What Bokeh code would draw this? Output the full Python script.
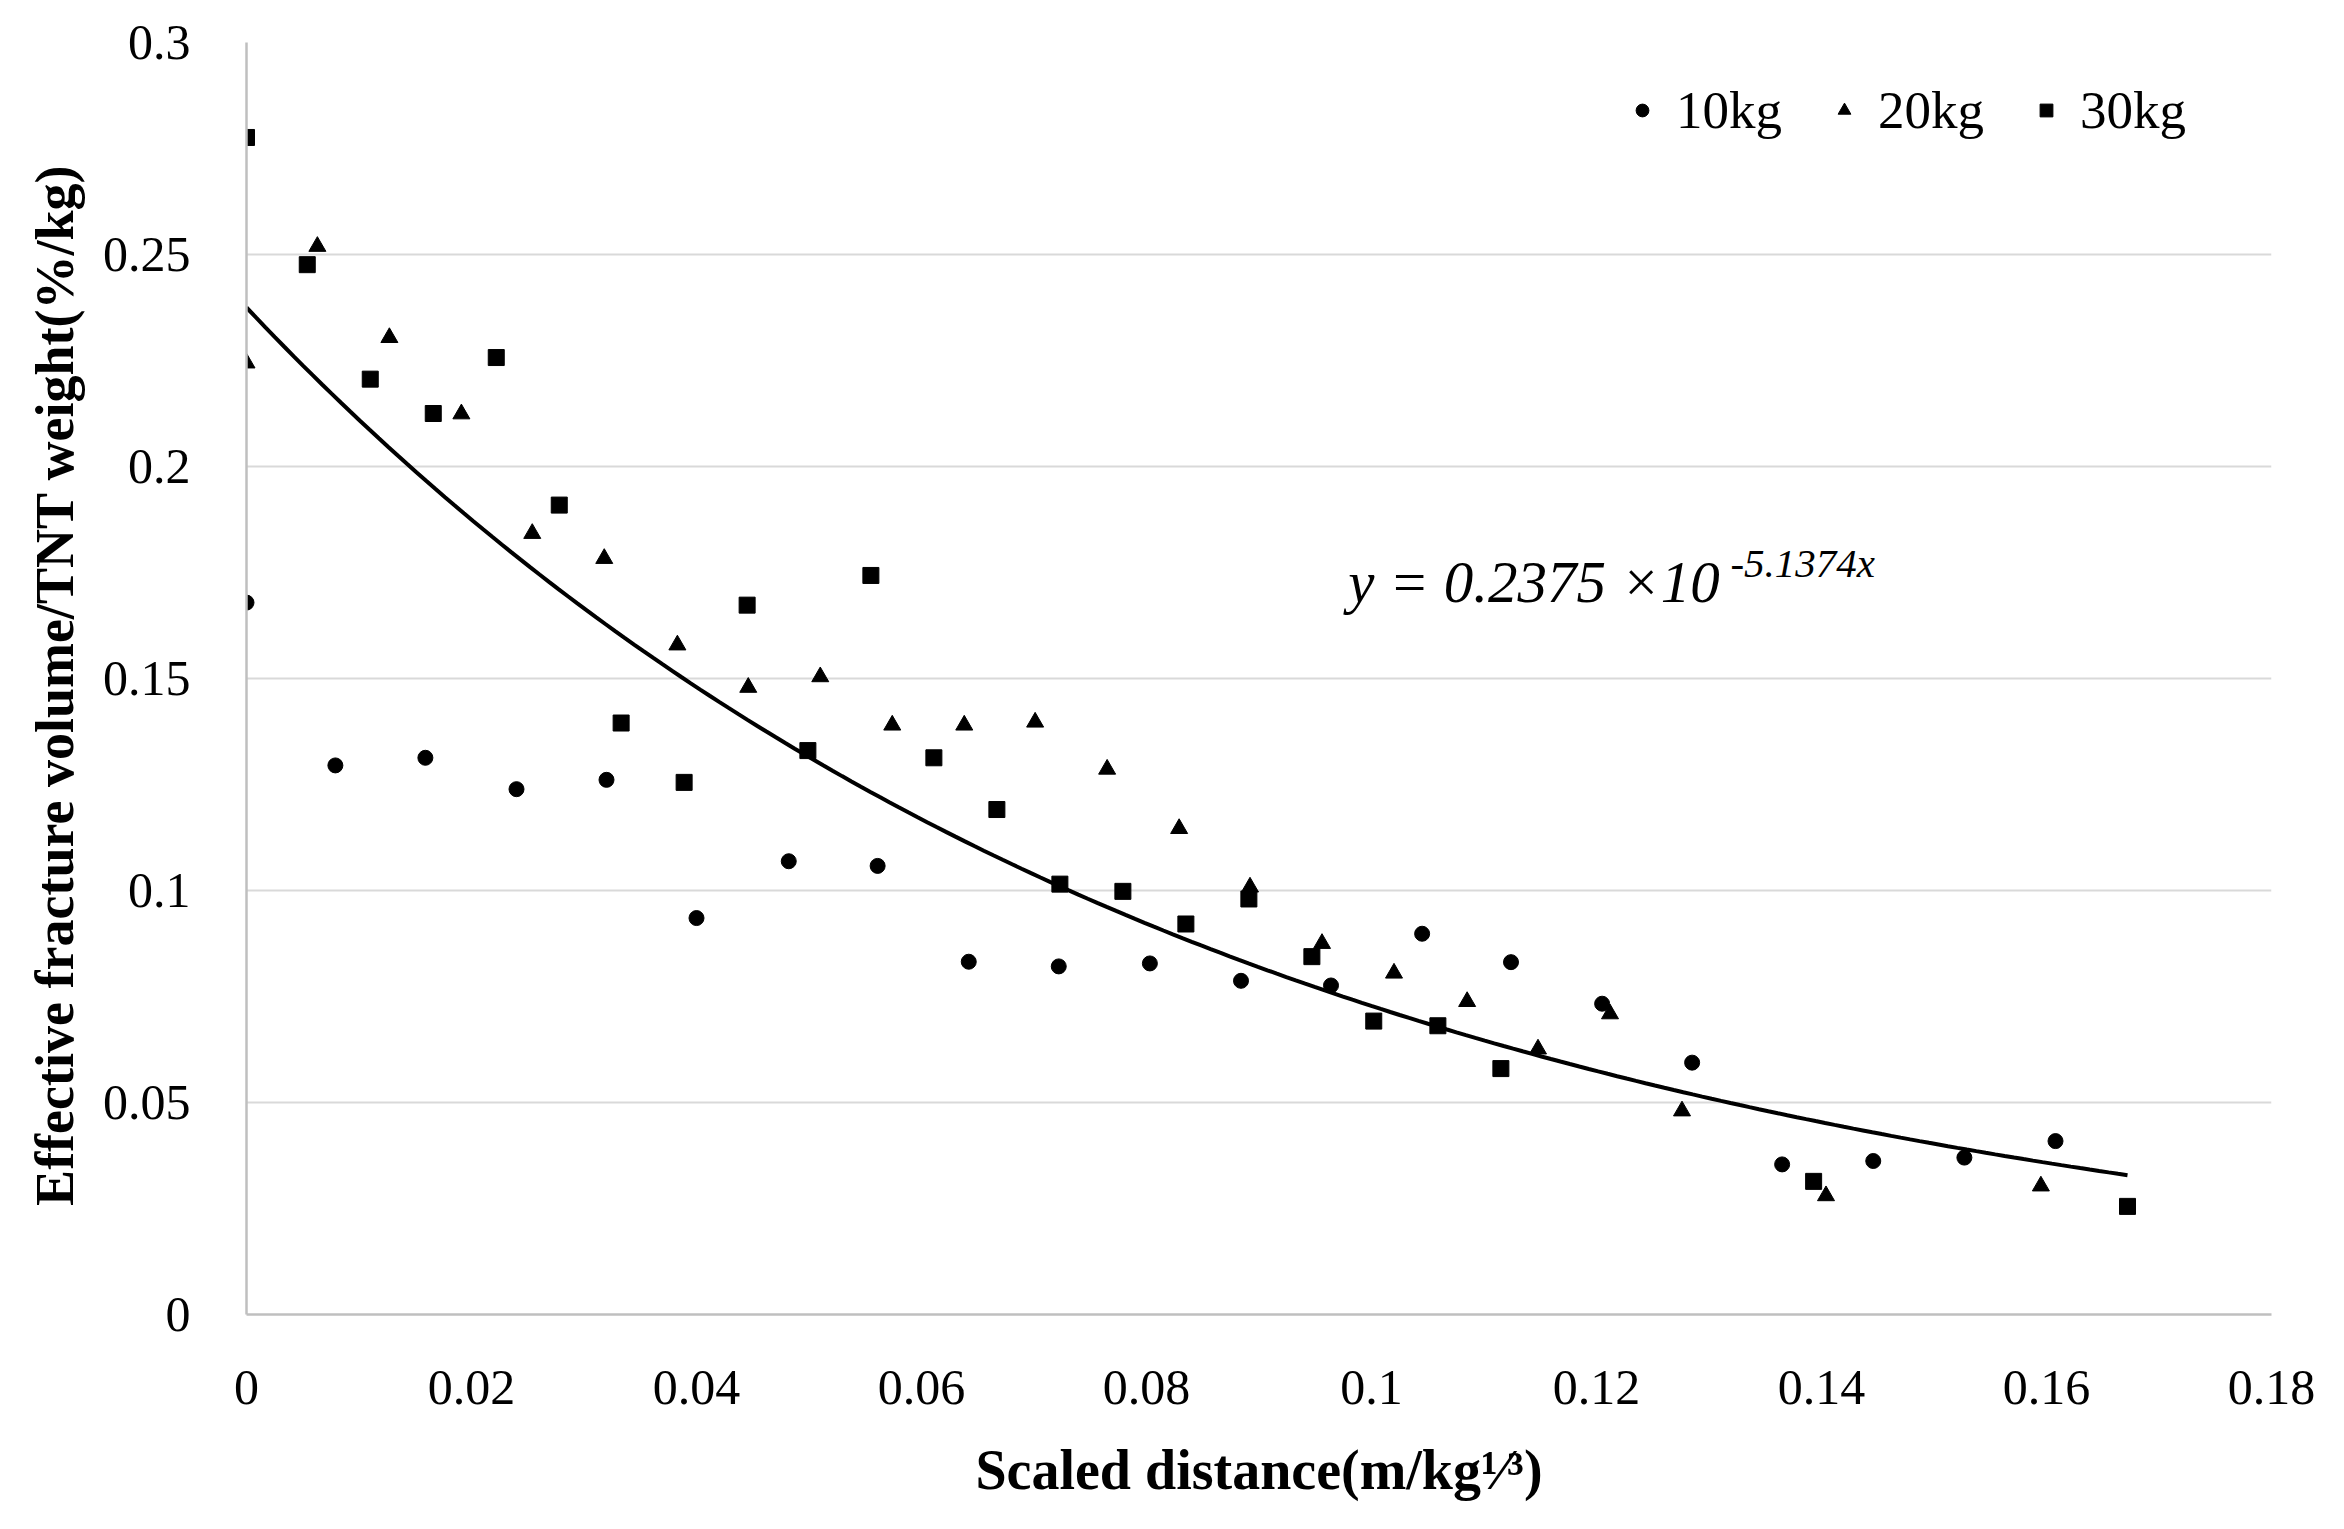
import numpy as np
from bokeh.plotting import figure
from bokeh.models import Label, FixedTicker, CustomJSTickFormatter, Range1d
from bokeh.embed import file_html
from bokeh.resources import INLINE

# ---- data ----
x_10kg = [0.0, 0.0079, 0.0159, 0.0240, 0.0320, 0.0400, 0.0482, 0.0561, 0.0642, 0.0722,
          0.0803, 0.0884, 0.0964, 0.1045, 0.1124, 0.1205, 0.1285, 0.1365, 0.1446, 0.1527, 0.1608]
y_10kg = [0.1679, 0.1295, 0.1313, 0.1239, 0.1261, 0.0935, 0.1069, 0.1058, 0.0832, 0.0821,
          0.0828, 0.0787, 0.0776, 0.0898, 0.0831, 0.0733, 0.0594, 0.0354, 0.0362, 0.0370, 0.0409]

x_20kg = [0.0, 0.0063, 0.0127, 0.0191, 0.0254, 0.0318, 0.0383, 0.0446, 0.0510, 0.0574, 0.0638,
          0.0701, 0.0765, 0.0829, 0.0892, 0.0956, 0.1020, 0.1085, 0.1148, 0.1212, 0.1276, 0.1404, 0.1595]
y_20kg = [0.2244, 0.2519, 0.2304, 0.2124, 0.1842, 0.1783, 0.1579, 0.1479, 0.1504, 0.1390, 0.1390,
          0.1397, 0.1286, 0.1146, 0.1008, 0.0875, 0.0805, 0.0738, 0.0626, 0.0709, 0.0480, 0.0280, 0.0303]

x_30kg = [0.0, 0.0054, 0.0110, 0.0166, 0.0222, 0.0278, 0.0333, 0.0389, 0.0445, 0.0499, 0.0555,
          0.0611, 0.0667, 0.0723, 0.0779, 0.0835, 0.0891, 0.0947, 0.1002, 0.1059, 0.1115, 0.1393, 0.1672]
y_30kg = [0.2776, 0.2476, 0.2206, 0.2125, 0.2257, 0.1909, 0.1395, 0.1255, 0.1673, 0.1330, 0.1743,
          0.1313, 0.1191, 0.1015, 0.0998, 0.0921, 0.0980, 0.0844, 0.0692, 0.0681, 0.0580, 0.0314, 0.0255]

series_labels = ["10kg", "20kg", "30kg"]

# fitted trend line  y = 0.2375 x 10^(-5.1374 x)
fit_a = 0.2375
fit_b = -5.1374
fit_x_min = 0.0
fit_x_max = 0.1672

x_ticks = [0.0, 0.02, 0.04, 0.06, 0.08, 0.10, 0.12, 0.14, 0.16, 0.18]
y_ticks = [0.0, 0.05, 0.10, 0.15, 0.20, 0.25, 0.30]

y_title = "Effective fracture volume/TNT  weight(%/kg)"
x_title = "Scaled distance(m/kg\u00b9\u2044\u00b3)"
eq_main = "y = 0.2375 \u00d710"
eq_sup = "-5.1374x"

FONT = "Liberation Serif"

p = figure(width=2328, height=1513, output_backend="svg", toolbar_location=None,
           x_range=Range1d(0, 0.18), y_range=Range1d(0, 0.3),
           min_border_left=246, min_border_right=57, min_border_top=42, min_border_bottom=199,
           background_fill_color="white", border_fill_color="white")
p.outline_line_color = None

# grid
p.xgrid.visible = False
p.ygrid.grid_line_color = "#d9d9d9"
p.ygrid.grid_line_width = 2
p.ygrid.ticker = FixedTicker(ticks=y_ticks)

fmt = CustomJSTickFormatter(code="var s = tick.toFixed(2); s = s.replace(/0+$/, ''); s = s.replace(/\\.$/, ''); return s;")
for ax, ticks in ((p.xaxis[0], x_ticks), (p.yaxis[0], y_ticks)):
    ax.ticker = FixedTicker(ticks=ticks)
    ax.formatter = fmt
    ax.axis_line_color = "#bfbfbf"
    ax.axis_line_width = 2.5
    ax.major_tick_line_color = None
    ax.minor_tick_line_color = None
    ax.major_tick_out = 0
    ax.major_tick_in = 0
    ax.minor_tick_out = 0
    ax.minor_tick_in = 0
    ax.major_label_text_font = FONT
    ax.major_label_text_font_size = "50px"
    ax.major_label_text_color = "black"
    ax.axis_label_text_font = FONT
    ax.axis_label_text_font_style = "bold"
    ax.axis_label_text_color = "black"

p.xaxis.major_label_standoff = 56
p.yaxis.major_label_standoff = 56

p.yaxis.axis_label = y_title
p.yaxis.axis_label_text_font_size = "54px"
p.yaxis.axis_label_standoff = 15

p.xaxis.axis_label = x_title
p.xaxis.axis_label_text_font_size = "56px"
p.xaxis.axis_label_standoff = 32

# trend line
fx = np.linspace(fit_x_min, fit_x_max, 200)
fy = fit_a * 10 ** (fit_b * fx)
p.line(fx, fy, line_color="black", line_width=4)

# scatter series
p.scatter(x_10kg, y_10kg, marker="circle", size=15, color="black", legend_label=series_labels[0])
p.scatter(x_20kg, y_20kg, marker="triangle", size=17, color="black", legend_label=series_labels[1])
p.scatter(x_30kg, y_30kg, marker="square", size=16, color="black", legend_label=series_labels[2])

lg = p.legend[0]
lg.orientation = "horizontal"
lg.location = (1380, 1174)
lg.glyph_width = 32
lg.glyph_height = 32
lg.label_standoff = 18
lg.spacing = 46
lg.padding = 0
lg.margin = 0
lg.border_line_color = None
lg.background_fill_alpha = 0
lg.label_text_font = FONT
lg.label_text_font_size = "53px"
lg.label_text_color = "black"

# equation of the fitted curve
p.add_layout(Label(x=0.09794, y=0.17284, text=eq_main, text_font=FONT, text_font_size="59px",
                   text_font_style="italic", text_color="black", text_baseline="alphabetic"))
p.add_layout(Label(x=0.13190, y=0.17732, text=eq_sup, text_font=FONT, text_font_size="41px",
                   text_font_style="italic", text_color="black", text_baseline="alphabetic"))

open("out.html", "w").write(file_html(p, INLINE))
